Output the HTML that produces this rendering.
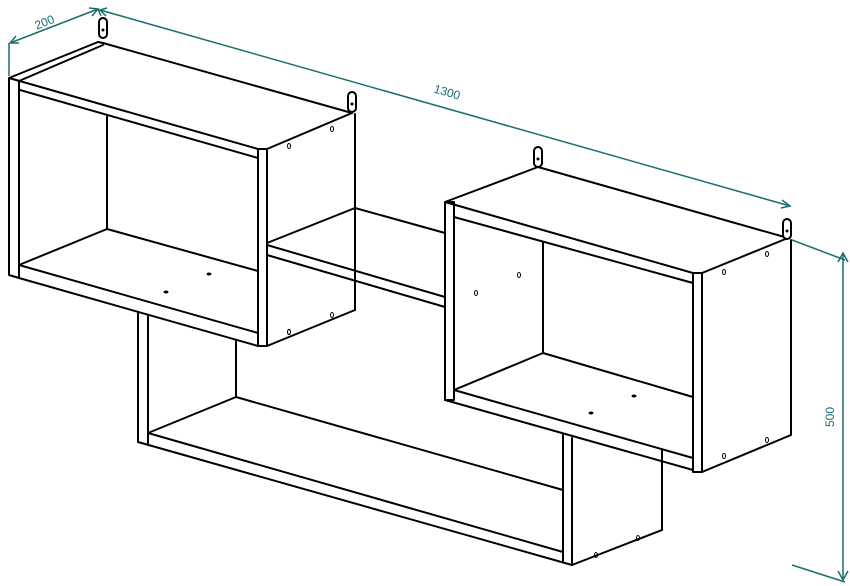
<!DOCTYPE html>
<html><head><meta charset="utf-8"><style>
html,body{margin:0;padding:0;background:#fff;}
svg{display:block;}
</style></head><body>
<svg width="850" height="586" viewBox="0 0 850 586" xmlns="http://www.w3.org/2000/svg">
<g stroke="#000" stroke-width="2" fill="none" stroke-linejoin="round" stroke-linecap="round">
<!-- LEFT BOX -->
<polyline points="9,78 9,275 19,278"/>
<line x1="19" y1="81" x2="19" y2="278"/>
<line x1="9" y1="78" x2="98" y2="42"/>
<line x1="19" y1="81" x2="103" y2="45"/>
<line x1="98" y1="42" x2="103" y2="43"/>
<line x1="103" y1="43" x2="352" y2="113"/>
<line x1="9" y1="78" x2="258" y2="149"/>
<line x1="20" y1="90" x2="258" y2="158"/>
<line x1="107" y1="116" x2="107" y2="229"/>
<line x1="19" y1="265" x2="107" y2="229"/>
<line x1="107" y1="229" x2="258" y2="271"/>
<line x1="19" y1="265" x2="258" y2="333"/>
<line x1="19" y1="278" x2="258" y2="346"/>
<rect x="258" y="149" width="9" height="197"/>
<line x1="267" y1="149" x2="352" y2="113"/>
<line x1="355" y1="114" x2="355" y2="310"/>
<line x1="267" y1="346" x2="355" y2="310"/>
<!-- MIDDLE SHELF -->
<line x1="267" y1="243" x2="355" y2="208"/>
<line x1="355" y1="208" x2="445" y2="233"/>
<line x1="267" y1="245" x2="445" y2="297"/>
<line x1="267" y1="255" x2="445" y2="307"/>
<!-- RIGHT BOX -->
<rect x="445" y="202" width="9" height="198"/>
<line x1="445" y1="202" x2="538" y2="167"/>
<line x1="538" y1="167" x2="788" y2="238"/>
<line x1="445" y1="202" x2="693" y2="273"/>
<line x1="454" y1="217" x2="693" y2="283"/>
<line x1="543" y1="242" x2="543" y2="353"/>
<line x1="454" y1="390" x2="543" y2="353"/>
<line x1="543" y1="353" x2="693" y2="397"/>
<line x1="454" y1="390" x2="693" y2="458"/>
<line x1="445" y1="400" x2="693" y2="470"/>
<rect x="693" y="273" width="9" height="199"/>
<line x1="702" y1="273" x2="788" y2="238"/>
<line x1="791" y1="240" x2="791" y2="435"/>
<line x1="702" y1="472" x2="791" y2="435"/>
<!-- LOWER BOX -->
<line x1="138" y1="312" x2="138" y2="442"/>
<line x1="148" y1="315" x2="148" y2="445"/>
<line x1="236" y1="340" x2="236" y2="397"/>
<line x1="148" y1="433" x2="236" y2="397"/>
<line x1="236" y1="397" x2="563" y2="490"/>
<line x1="148" y1="433" x2="563" y2="552"/>
<line x1="138" y1="442" x2="572" y2="565"/>
<line x1="563" y1="435" x2="563" y2="562"/>
<line x1="572" y1="438" x2="572" y2="565"/>
<line x1="572" y1="565" x2="662" y2="530"/>
<line x1="662" y1="450" x2="662" y2="530"/>
</g>
<!-- hangers -->
<g stroke="#000" stroke-width="2" fill="#fff">
<rect x="99" y="18" width="8" height="20" rx="4"/>
<rect x="348" y="92" width="8" height="20" rx="4"/>
<rect x="534" y="147" width="8" height="20" rx="4"/>
<rect x="783" y="219" width="8" height="20" rx="4"/>
</g>
<g fill="#000">
<circle cx="103" cy="30" r="1.5"/><circle cx="352" cy="104" r="1.5"/><circle cx="538" cy="159" r="1.5"/><circle cx="787" cy="231" r="1.5"/>
<ellipse cx="166" cy="292" rx="2.5" ry="1.5"/><ellipse cx="209" cy="274" rx="2.5" ry="1.5"/>
<ellipse cx="591" cy="413" rx="2.5" ry="1.5"/><ellipse cx="634" cy="396" rx="2.5" ry="1.5"/>
</g>
<g stroke="#000" stroke-width="1" fill="none">
<ellipse cx="289" cy="146" rx="1.5" ry="2.5"/><ellipse cx="332" cy="129" rx="1.5" ry="2.5"/>
<ellipse cx="289" cy="332" rx="1.5" ry="2.5"/><ellipse cx="332" cy="315" rx="1.5" ry="2.5"/>
<ellipse cx="476" cy="293" rx="1.5" ry="2.5"/><ellipse cx="519" cy="275" rx="1.5" ry="2.5"/>
<ellipse cx="724" cy="272" rx="1.5" ry="2.5"/><ellipse cx="767" cy="254" rx="1.5" ry="2.5"/>
<ellipse cx="724" cy="456" rx="1.5" ry="2.5"/><ellipse cx="767" cy="440" rx="1.5" ry="2.5"/>
<ellipse cx="289" cy="332" rx="1.5" ry="2.5"/>
<ellipse cx="596" cy="555" rx="1.5" ry="2.5"/><ellipse cx="638" cy="538" rx="1.5" ry="2.5"/>
</g>
<!-- DIMENSIONS -->
<g stroke="#1c6e6e" stroke-width="1.5" fill="none">
<line x1="9" y1="43" x2="9" y2="76"/>
<line x1="10" y1="43" x2="98" y2="9"/>
<polyline points="16,36 10,43 19,43"/>
<polyline points="89,8 98,9 92,16"/>
<line x1="98" y1="9" x2="101" y2="16"/>
<line x1="100" y1="10" x2="790" y2="206"/>
<polyline points="107,8 100,10 106,16"/>
<polyline points="782,200 790,206 781,208"/>
<line x1="792" y1="240" x2="845" y2="260"/>
<line x1="843" y1="253" x2="843" y2="580"/>
<polyline points="838,262 843,253 848,262"/>
<polyline points="838,571 843,580 848,571"/>
<line x1="792" y1="565" x2="845" y2="582"/>
</g>
<g fill="#1c6e6e" font-family="'Liberation Sans Narrow','Liberation Sans',sans-serif" font-size="12">
<text x="0" y="0" transform="translate(46,26) rotate(-22)" text-anchor="middle">200</text>
<text x="0" y="0" transform="translate(446,96) rotate(16)" text-anchor="middle">1300</text>
<text x="0" y="0" transform="translate(834,417) rotate(-90)" text-anchor="middle">500</text>
</g>
</svg>
</body></html>
